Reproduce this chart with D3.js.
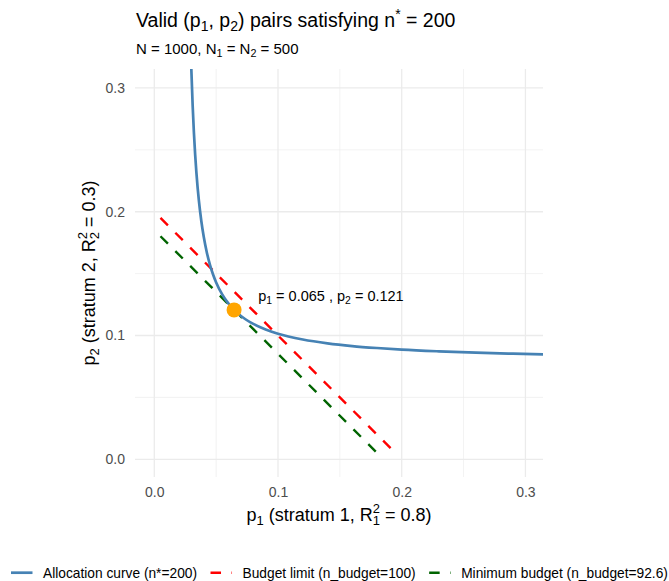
<!DOCTYPE html>
<meta charset="utf-8">
<style>
body { margin: 0; background: #fff; }
svg { font-family: 'Liberation Sans', Arial, sans-serif; }
.tick text { fill: #4D4D4D; font-size: 14px; }
.grid-major { stroke: #EBEBEB; stroke-width: 1.3; }
.grid-minor { stroke: #EBEBEB; stroke-width: 0.65; }
</style>
<body>
<div id="chart"></div>
<script src="https://cdn.jsdelivr.net/npm/d3@7"></script>
<script>
// allocation curve n* = 200
var curveP1 = [0.0295, 0.030, 0.031, 0.032, 0.033, 0.034, 0.035, 0.036, 0.038, 0.040, 0.0425,
               0.045, 0.0475, 0.050, 0.055, 0.060, 0.065, 0.070, 0.080, 0.090, 0.100,
               0.120, 0.140, 0.160, 0.180, 0.200, 0.230, 0.260, 0.290, 0.320];
var curveP2 = [0.3301, 0.3134, 0.2859, 0.2642, 0.2465, 0.2320, 0.2197, 0.2093, 0.1925, 0.1795, 0.1669,
               0.1571, 0.1493, 0.1429, 0.1330, 0.1258, 0.1202, 0.1158, 0.1094, 0.1048, 0.1014,
               0.0968, 0.0937, 0.0915, 0.0899, 0.0886, 0.0872, 0.0861, 0.0853, 0.0846];

// budget lines (p1 + p2 = n_budget / 500)
var budgetP1 = [0.005, 0.195];
var budgetP2 = [0.195, 0.005];
var minP1 = [0.005, 0.1802];
var minP2 = [0.1802, 0.005];

// optimal pair
var optP1 = 0.0645;
var optP2 = 0.1207;
var optLabel = ['0.065', '0.121'];

var xTicks = [0.0, 0.1, 0.2, 0.3];
var yTicks = [0.0, 0.1, 0.2, 0.3];
var xMinor = [0.05, 0.15, 0.25];
var yMinor = [0.05, 0.15, 0.25];

var legendLabels = ['Allocation curve (n*=200)', 'Budget limit (n_budget=100)', 'Minimum budget (n_budget=92.6)'];
var legendColors = ['steelblue', 'red', 'darkgreen'];
var legendDash = [null, '10.5,10.5', '10.5,10.5'];

var W = 669, H = 581;
var pLeft = 135, pRight = 543, pTop = 69, pBottom = 477;

var svg = d3.select('#chart').append('svg')
  .attr('width', W).attr('height', H);

var x = d3.scaleLinear().domain([-0.0156, 0.3142]).range([pLeft, pRight]);
var y = d3.scaleLinear().domain([-0.0143, 0.3153]).range([pBottom, pTop]);

// math-ish text helper: parts = [[text, kind], ...]
function mathText(sel, parts, size) {
  parts.forEach(function(p) {
    var kind = p[1] || 'n';
    if (kind == 'n') {
      sel.append('tspan').text(p[0]);
    } else if (kind == 'sub') {
      sel.append('tspan').text(p[0]).style('font-size', (size * 0.72) + 'px')
        .attr('baseline-shift', -size * 0.22);
    } else if (kind == 'sup') {
      sel.append('tspan').text(p[0]).style('font-size', (size * 0.72) + 'px')
        .attr('baseline-shift', size * 0.42);
    } else if (kind == 'subsup') {
      var s = sel.append('tspan').text(p[0]).style('font-size', (size * 0.72) + 'px')
        .attr('baseline-shift', -size * 0.22);
      var w = s.node().getComputedTextLength();
      sel.append('tspan').text(p[2]).style('font-size', (size * 0.72) + 'px')
        .attr('dx', -w).attr('baseline-shift', size * 0.42);
    }
  });
}

// grid
svg.append('g').selectAll('line').data(xMinor).enter().append('line')
  .attr('class', 'grid-minor')
  .attr('x1', d => x(d)).attr('x2', d => x(d)).attr('y1', pTop).attr('y2', pBottom);
svg.append('g').selectAll('line').data(yMinor).enter().append('line')
  .attr('class', 'grid-minor')
  .attr('y1', d => y(d)).attr('y2', d => y(d)).attr('x1', pLeft).attr('x2', pRight);
svg.append('g').selectAll('line').data(xTicks).enter().append('line')
  .attr('class', 'grid-major')
  .attr('x1', d => x(d)).attr('x2', d => x(d)).attr('y1', pTop).attr('y2', pBottom);
svg.append('g').selectAll('line').data(yTicks).enter().append('line')
  .attr('class', 'grid-major')
  .attr('y1', d => y(d)).attr('y2', d => y(d)).attr('x1', pLeft).attr('x2', pRight);

// axes
var xAxis = svg.append('g').attr('transform', 'translate(0,' + (pBottom + 8) + ')')
  .call(d3.axisBottom(x).tickValues(xTicks).tickSize(0).tickPadding(2).tickFormat(d3.format('.1f')));
xAxis.select('.domain').remove();

var yAxis = svg.append('g').attr('transform', 'translate(' + (pLeft - 10) + ',0)')
  .call(d3.axisLeft(y).tickValues(yTicks).tickSize(0).tickPadding(0).tickFormat(d3.format('.1f')));
yAxis.select('.domain').remove();
svg.selectAll('.tick text').style('font-family', "'Liberation Sans', Arial, sans-serif");

svg.append('clipPath').attr('id', 'panel')
  .append('rect').attr('x', pLeft).attr('y', pTop).attr('width', pRight - pLeft).attr('height', pBottom - pTop);

var plot = svg.append('g').attr('clip-path', 'url(#panel)');

var line = d3.line().x(d => x(d[0])).y(d => y(d[1]));

plot.append('path')
  .datum(d3.zip(budgetP1, budgetP2))
  .attr('d', line)
  .attr('fill', 'none').attr('stroke', 'red').attr('stroke-width', 2.4)
  .attr('stroke-dasharray', '10.5,10.5');

plot.append('path')
  .datum(d3.zip(minP1, minP2))
  .attr('d', line)
  .attr('fill', 'none').attr('stroke', 'darkgreen').attr('stroke-width', 2.4)
  .attr('stroke-dasharray', '10.5,10.5');

plot.append('path')
  .datum(d3.zip(curveP1, curveP2))
  .attr('d', d3.line().x(d => x(d[0])).y(d => y(d[1])).curve(d3.curveMonotoneX))
  .attr('fill', 'none').attr('stroke', 'steelblue').attr('stroke-width', 2.7);

plot.append('circle')
  .attr('cx', x(optP1)).attr('cy', y(optP2)).attr('r', 7.5)
  .attr('fill', 'orange');

var ann = svg.append('text')
  .attr('x', x(optP1 + 0.0195)).attr('y', y(optP2) - 9)
  .style('font-size', '14.5px').attr('fill', '#000');
mathText(ann, [['p'], ['1', 'sub'], [' = ' + optLabel[0] + ' , p'], ['2', 'sub'], [' = ' + optLabel[1]]], 14.5);

// titles
var title = svg.append('text').attr('x', 136).attr('y', 27).style('font-size', '19.5px');
mathText(title, [['Valid (p'], ['1', 'sub'], [', p'], ['2', 'sub'], [') pairs satisfying n'], ['*', 'sup'], [' = 200']], 19.5);

var sub = svg.append('text').attr('x', 136).attr('y', 54).style('font-size', '15px');
mathText(sub, [['N = 1000, N'], ['1', 'sub'], [' = N'], ['2', 'sub'], [' = 500']], 15);

var xt = svg.append('text').attr('x', (pLeft + pRight) / 2).attr('y', 521)
  .attr('text-anchor', 'middle').style('font-size', '18px');
mathText(xt, [['p'], ['1', 'sub'], [' (stratum 1, R'], ['1', 'subsup', '2'], [' = 0.8)']], 18);

var yt = svg.append('text').attr('transform', 'translate(95,' + ((pTop + pBottom) / 2) + ') rotate(-90)')
  .attr('text-anchor', 'middle').style('font-size', '18px');
mathText(yt, [['p'], ['2', 'sub'], [' (stratum 2, R'], ['2', 'subsup', '2'], [' = 0.3)']], 18);

// legend
var lx = 11, ly = 572.7;
legendLabels.forEach(function(lab, i) {
  svg.append('line')
    .attr('x1', lx).attr('x2', lx + 21.5).attr('y1', ly).attr('y2', ly)
    .attr('stroke', legendColors[i]).attr('stroke-width', i == 0 ? 2.7 : 2.4)
    .attr('stroke-dasharray', legendDash[i]);
  var t = svg.append('text').attr('x', lx + 32).attr('y', 577.7)
    .style('font-size', '13.75px').text(lab);
  lx = lx + 32 + t.node().getComputedTextLength() + 13.5;
});
</script>
</body>
